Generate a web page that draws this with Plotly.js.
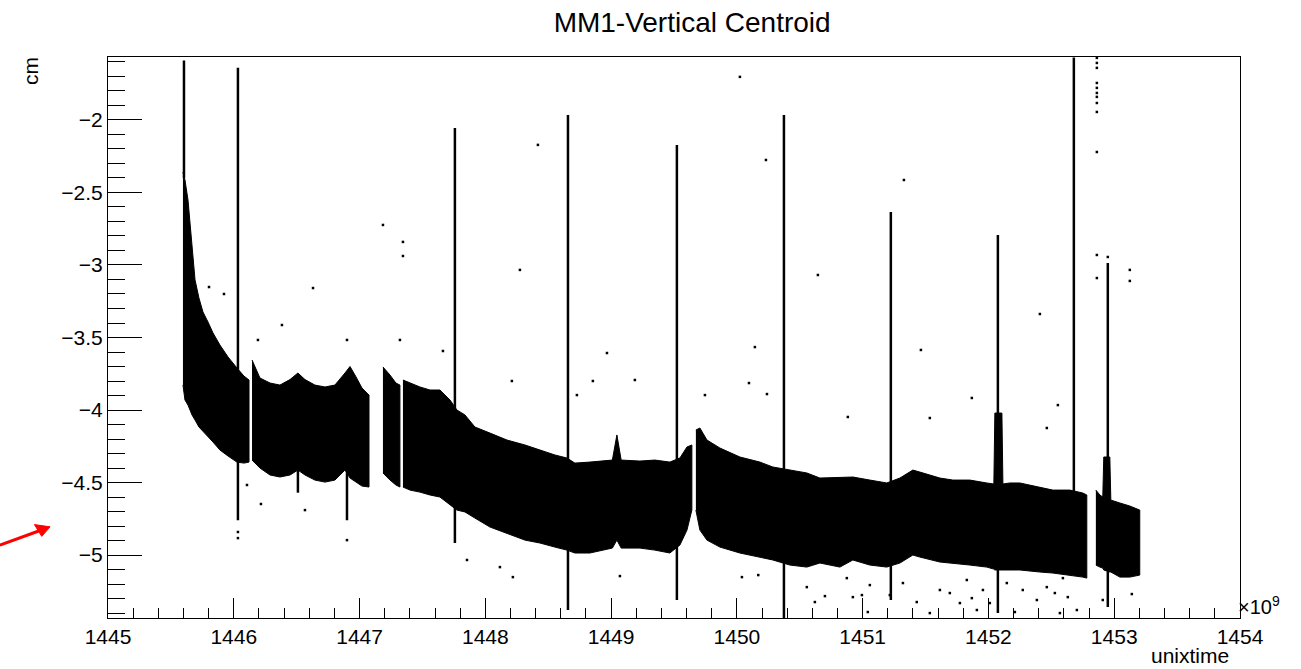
<!DOCTYPE html>
<html>
<head>
<meta charset="utf-8">
<script src="https://cdn.plot.ly/plotly-3.0.1.min.js"></script>
<style>html,body{margin:0;padding:0;background:#fff;}#chart{width:1301px;height:669px;}</style>
</head>
<body>
<div id="chart"></div>
<script>
// ---- data (x in units of 1e9 s as shown on the axis, y in cm) ----
const segAx  = [1445.596,1445.612,1445.636,1445.652,1445.668,1445.692,1445.723,1445.755,1445.795,1445.835,1445.890,1445.954,1446.025,1446.081,1446.121];
const segAhi = [-2.359,-2.414,-2.552,-2.724,-2.897,-3.103,-3.228,-3.324,-3.393,-3.469,-3.552,-3.634,-3.710,-3.766,-3.793];
const segAlo = [-3.828,-3.931,-3.966,-4.000,-4.034,-4.069,-4.117,-4.152,-4.186,-4.221,-4.276,-4.317,-4.359,-4.366,-4.359];

const segBx  = [1446.145,1446.208,1446.288,1446.367,1446.447,1446.510,1446.566,1446.645,1446.725,1446.804,1446.884,1446.924,1446.971,1447.019,1447.075];
const segBhi = [-3.655,-3.779,-3.814,-3.828,-3.790,-3.745,-3.790,-3.828,-3.841,-3.828,-3.745,-3.700,-3.770,-3.848,-3.897];
const segBlo = [-4.345,-4.400,-4.448,-4.462,-4.448,-4.414,-4.448,-4.483,-4.497,-4.483,-4.414,-4.469,-4.497,-4.524,-4.531];

const segCx  = [1447.186,1447.242,1447.289,1447.321];
const segChi = [-3.703,-3.759,-3.814,-3.828];
const segClo = [-4.434,-4.483,-4.517,-4.531];

const segDx  = [1447.345,1447.401,1447.480,1447.560,1447.639,1447.719,1447.774,1447.838,1447.917,1448.037,1448.172,1448.315,1448.434,1448.553,1448.649,1448.712,1448.831,1449.010,1449.046,1449.080,1449.229,1449.348,1449.467,1449.547,1449.603,1449.642];
const segDhi = [-3.793,-3.814,-3.841,-3.862,-3.862,-3.931,-4.000,-4.034,-4.117,-4.159,-4.207,-4.241,-4.276,-4.310,-4.331,-4.366,-4.359,-4.345,-4.172,-4.345,-4.352,-4.345,-4.359,-4.331,-4.255,-4.241];
const segDlo = [-4.531,-4.552,-4.566,-4.586,-4.600,-4.655,-4.690,-4.703,-4.745,-4.807,-4.848,-4.897,-4.917,-4.945,-4.966,-4.986,-4.986,-4.952,-4.897,-4.952,-4.952,-4.966,-4.986,-4.931,-4.828,-4.690];

const segEx  = [1449.674,1449.706,1449.762,1449.865,1450.024,1450.183,1450.286,1450.421,1450.556,1450.660,1450.819,1450.922,1451.057,1451.192,1451.296,1451.399,1451.455,1451.614,1451.717,1451.852,1451.987,1452.043,1452.051,1452.107,1452.115,1452.170,1452.250,1452.409,1452.512,1452.647,1452.750,1452.782];
const segEhi = [-4.138,-4.124,-4.207,-4.262,-4.324,-4.359,-4.393,-4.414,-4.434,-4.469,-4.462,-4.462,-4.483,-4.503,-4.469,-4.414,-4.428,-4.469,-4.483,-4.483,-4.503,-4.510,-4.021,-4.021,-4.510,-4.503,-4.503,-4.531,-4.552,-4.552,-4.572,-4.586];
const segElo = [-4.690,-4.828,-4.897,-4.945,-4.986,-5.014,-5.034,-5.069,-5.083,-5.055,-5.083,-5.034,-5.069,-5.083,-5.055,-5.000,-5.014,-5.048,-5.055,-5.069,-5.083,-5.097,-5.103,-5.103,-5.103,-5.103,-5.103,-5.117,-5.124,-5.138,-5.152,-5.159];

const segFx  = [1452.854,1452.886,1452.909,1452.917,1452.965,1452.973,1453.045,1453.124,1453.203];
const segFhi = [-4.552,-4.586,-4.600,-4.324,-4.324,-4.621,-4.641,-4.662,-4.690];
const segFlo = [-5.069,-5.083,-5.090,-5.103,-5.117,-5.117,-5.152,-5.152,-5.138];

const spikeX      = [1445.604,1446.033,1447.758,1448.657,1449.523,1450.374,1451.224,1452.075,1452.679,1452.949,1446.510,1446.900];
const spikeTop    = [-1.59,-1.64,-2.055,-1.966,-2.172,-1.966,-2.634,-2.793,-1.57,-2.986,-4.40,-4.20];
const spikeBottom = [-2.40,-4.76,-4.917,-5.379,-5.310,-5.434,-5.310,-5.400,-4.60,-5.359,-4.57,-4.76];

const dotX = [1450.024,1448.418,1450.231,1447.186,1448.275,1446.630,1447.345,1447.345,1446.383,1446.900,1446.192,1447.321,1451.328,1450.644,1452.409,1452.862,1452.862,1452.862,1452.949,1453.124,1453.124,1451.463,1451.868,1452.464,1452.552,1450.882,1451.534,1447.663,1448.211,1448.967,1449.189,1448.728,1448.855,1450.096,1450.143,1449.746,1450.239,1445.803,1445.922,
  1452.862,1452.862,1452.862,1452.862,1452.862,1452.862,1452.862,1452.862,1452.862,
  1446.105,1446.216,1446.566,1446.900,1446.033,1446.033,1447.854,1448.116,1448.219,1449.070,1450.040,1450.170,1450.556,1450.700,1450.620,
  1450.874,1450.922,1450.994,1451.057,1451.041,1451.216,1451.320,1451.430,1451.534,1451.614,1451.693,1451.773,1451.828,1451.868,1451.908,1451.956,1452.011,1452.146,1452.210,1452.273,1452.385,1452.464,1452.528,1452.568,1452.631,1452.703,1452.592,1452.909,1453.140];
const dotY = [-1.703,-2.172,-2.276,-2.724,-3.034,-3.159,-2.841,-2.938,-3.414,-3.517,-3.517,-3.517,-2.414,-3.069,-3.338,-2.221,-2.931,-3.090,-2.945,-3.034,-3.110,-3.586,-3.917,-4.124,-3.966,-4.048,-4.055,-3.593,-3.800,-3.607,-3.793,-3.897,-3.800,-3.814,-3.566,-3.897,-3.890,-3.152,-3.200,
  -1.572,-1.607,-1.641,-1.745,-1.779,-1.814,-1.841,-1.883,-1.945,
  -4.517,-4.648,-4.690,-4.897,-4.841,-4.883,-5.034,-5.083,-5.152,-5.145,-5.152,-5.138,-5.221,-5.283,-5.324,
  -5.159,-5.290,-5.276,-5.207,-5.393,-5.276,-5.193,-5.324,-5.400,-5.241,-5.262,-5.331,-5.172,-5.297,-5.379,-5.241,-5.331,-5.193,-5.393,-5.241,-5.310,-5.221,-5.262,-5.400,-5.290,-5.379,-5.159,-5.310,-5.269];

const xTickVals = [1445,1446,1447,1448,1449,1450,1451,1452,1453,1454];
const yTickVals = [-5,-4.5,-4,-3.5,-3,-2.5,-2];

// ---- build traces ----
function band(x, hi, lo) {
  return {
    type: 'scatter', mode: 'lines',
    x: x.concat(x.slice().reverse()),
    y: hi.concat(lo.slice().reverse()),
    fill: 'toself', fillcolor: '#000',
    line: {color: '#000', width: 1},
    hoverinfo: 'skip', showlegend: false
  };
}
const sx = [], sy = [];
spikeX.forEach((v, i) => { sx.push(v, v, null); sy.push(spikeTop[i], spikeBottom[i], null); });

const traces = [
  band(segAx, segAhi, segAlo),
  band(segBx, segBhi, segBlo),
  band(segCx, segChi, segClo),
  band(segDx, segDhi, segDlo),
  band(segEx, segEhi, segElo),
  band(segFx, segFhi, segFlo),
  {type: 'scatter', mode: 'lines', x: sx, y: sy, line: {color: '#000', width: 2.5}, hoverinfo: 'skip', showlegend: false},
  {type: 'scatter', mode: 'markers', x: dotX, y: dotY, marker: {color: '#000', size: 2.5, symbol: 'square'}, hoverinfo: 'skip', showlegend: false}
];

const FONT = 'Liberation Sans, Arial, Helvetica, sans-serif';
const layout = {
  width: 1301, height: 669,
  margin: {l: 108, r: 61, t: 57, b: 51},
  paper_bgcolor: '#fff', plot_bgcolor: '#fff',
  font: {family: FONT, color: '#000', size: 21},
  showlegend: false,
  title: {text: 'MM1-Vertical Centroid', font: {family: FONT, size: 28, color: '#000'}, x: 0.532, xanchor: 'center', y: 0.967, yanchor: 'middle'},
  xaxis: {
    range: [1445, 1454], tickmode: 'array', tickvals: xTickVals, ticktext: xTickVals.map(String),
    ticks: 'inside', ticklen: 20, tickwidth: 1, tickcolor: '#000',
    minor: {dtick: 0.2, tick0: 1445, ticks: 'inside', ticklen: 10, tickwidth: 1, tickcolor: '#000', showgrid: false},
    showgrid: false, zeroline: false, showline: true, linecolor: '#000', linewidth: 1, mirror: true,
    tickfont: {family: FONT, size: 21, color: '#000'}
  },
  yaxis: {
    range: [-5.434, -1.566], tickmode: 'array', tickvals: yTickVals, ticktext: yTickVals.map(v => (v < 0 ? '\u2212' : '') + Math.abs(v)),
    ticks: 'inside', ticklen: 34, tickwidth: 1, tickcolor: '#000',
    minor: {dtick: 0.1, tick0: -5, ticks: 'inside', ticklen: 17, tickwidth: 1, tickcolor: '#000', showgrid: false},
    showgrid: false, zeroline: false, showline: true, linecolor: '#000', linewidth: 1, mirror: true,
    tickfont: {family: FONT, size: 21, color: '#000'}
  },
  annotations: [
    {text: 'cm', xref: 'paper', yref: 'paper', x: -0.0689, y: 0.975, xanchor: 'center', yanchor: 'middle', textangle: -90, showarrow: false, font: {family: FONT, size: 21, color: '#000'}},
    {text: 'unixtime', xref: 'paper', yref: 'paper', x: 0.956, y: -0.066, xanchor: 'center', yanchor: 'middle', showarrow: false, font: {family: FONT, size: 21, color: '#000'}},
    {text: '\u00d710<sup>9</sup>', xref: 'paper', yref: 'paper', x: 0.9965, y: 0.022, xanchor: 'left', yanchor: 'middle', showarrow: false, font: {family: FONT, size: 20, color: '#000'}}
  ],
  shapes: [
    // red arrow (shaft + head) drawn in paper coordinates, left of the axis
    {type: 'line', xref: 'paper', yref: 'paper', x0: -0.0955, y0: 0.130, x1: -0.0600, y1: 0.156, line: {color: '#ff0000', width: 3}},
    {type: 'path', xref: 'paper', yref: 'paper', path: 'M -0.0512 0.1625 L -0.0650 0.1665 L -0.0585 0.1455 Z', fillcolor: '#ff0000', line: {color: '#ff0000', width: 1}}
  ]
};

Plotly.newPlot('chart', traces, layout, {displayModeBar: false, staticPlot: true});
</script>
</body>
</html>
